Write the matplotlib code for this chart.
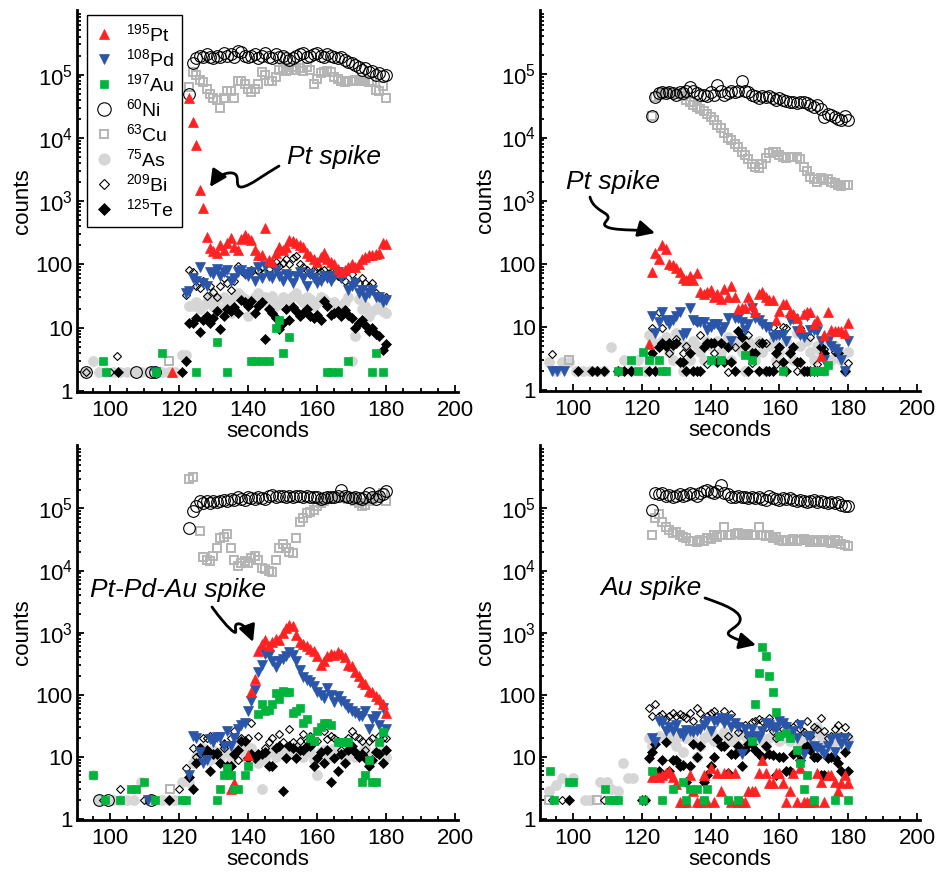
import numpy as np
import matplotlib.pyplot as plt
import matplotlib.transforms as mtransforms
from matplotlib.path import Path
from matplotlib.patches import FancyArrowPatch
from matplotlib.ticker import LogLocator, MultipleLocator, NullFormatter

plt.rcParams['font.family'] = ['Liberation Sans', 'DejaVu Sans']
plt.rcParams['mathtext.fontset'] = 'custom'
plt.rcParams['mathtext.rm'] = 'Liberation Sans'
plt.rcParams['mathtext.it'] = 'Liberation Sans:italic'

# acquisition time of each sweep during ablation (s)
sec = [122, 123, 124, 125, 126, 127, 128, 129, 130, 131,
       132, 133, 134, 135, 136, 137, 138, 139, 140, 141,
       142, 143, 144, 145, 146, 147, 148, 149, 150, 151,
       152, 153, 154, 155, 156, 157, 158, 159, 160, 161,
       162, 163, 164, 165, 166, 167, 168, 169, 170, 171,
       172, 173, 174, 175, 176, 177, 178, 179, 180]

# ---- spot 1 : Pt spike ----
p1_pt = [None, 4.3e4, 1.8e4, 7.7e3, 1.5e3, 780, 270, 180, 160, 150,
         200, 170, 220, 260, 190, 170, 250, 290, 260, 240,
         170, 140, 140, 375, 118, 110, 150, 190, 170, 190,
         240, 230, 220, 200, 185, 150, 135, 120, 110, 130,
         150, 120, 110, 100, 85, 75, 80, 90, 100, 90,
         100, 120, 130, 140, 140, 145, 150, 220, 210]
p1_pd = [35, 38, 60, 55, 90, 50, 45, 75, 70, 85,
         65, 75, 80, 55, 60, 75, 80, 70, 65, 75,
         55, 90, 60, 95, 65, 60, 80, 65, 55, 70,
         65, 50, 65, 75, 60, 45, 70, 60, 50, 55,
         65, 60, 55, 65, 75, 60, 70, 40, 45, 50,
         35, 40, 30, 35, 40, 30, 30, 25, 27]
p1_au = [None, None, None, 2, None, None, None, None, None, 6,
         None, None, 2, None, None, None, None, None, None, 3,
         3, None, 3, None, 3, None, 10, 13, 4, None,
         7, None, None, None, None, None, None, None, None, None,
         None, 2, 2, None, 2, None, None, 3, None, None,
         None, None, None, None, 2, 4, None, 2, None]
p1_ni = [None, 5e4, 1.5e5, 1.8e5, 2.0e5, 1.9e5, 2.1e5, 1.9e5, 1.8e5, 2.0e5,
         1.9e5, 2.2e5, 2.0e5, 2.1e5, 1.9e5, 2.4e5, 2.3e5, 2.0e5, 1.9e5, 2.0e5,
         2.1e5, 1.8e5, 2.0e5, 2.2e5, 1.9e5, 1.8e5, 2.1e5, 1.9e5, 2.0e5, 1.8e5,
         1.7e5, 1.8e5, 2.0e5, 2.1e5, 2.2e5, 1.9e5, 2.0e5, 2.1e5, 2.2e5, 2.0e5,
         1.9e5, 2.1e5, 2.0e5, 1.9e5, 1.8e5, 1.9e5, 1.7e5, 1.6e5, 1.5e5, 1.4e5,
         1.3e5, 1.2e5, 1.25e5, 1.1e5, 1.15e5, 1.0e5, 1.05e5, 0.95e5, 1.0e5]
p1_cu = [None, 6.3e4, 1.1e5, 1.0e5, 8.2e4, 7.5e4, 6e4, 5e4, 4.3e4, 4e4,
         3e4, 4.3e4, 5.6e4, 5.6e4, 4.3e4, 8e4, 8e4, 7e4, 6e4, 5.3e4,
         6e4, 7.2e4, 1.1e5, 1.0e5, 8e4, 8e4, 9e4, 1.2e5, 1.25e5, 1.15e5,
         1.2e5, 1.3e5, 1.2e5, 1.25e5, 1.15e5, 1.3e5, 1.2e5, 7e4, 8.5e4, 1.05e5,
         1.1e5, 1.15e5, 1.1e5, 9e4, 8.5e4, 8e4, 7.5e4, 8e4, 7.8e4, 8.2e4,
         8e4, 7.8e4, 8e4, 7.5e4, 7.8e4, 5.7e4, 5.5e4, 6.5e4, 4.3e4]
p1_as = [3.7, 22, 22, 25, 20, 22, 25, 30, 22, 28,
         20, 30, 25, 17, 30, 35, 32, 28, 15, 25,
         30, 35, 25, 30, 28, 32, 22, 25, 30, 28,
         25, 32, 35, 28, 25, 30, 28, 22, 25, 30,
         28, 25, 22, 25, 20, 22, 25, 30, 3, 7.5,
         28, 20, 22, 15, 18, 20, 22, 18, 17]
p1_bi = [33, 80, 75, 45, 42, 55, 32, 45, 37, 30,
         45, 60, 50, 40, 55, 95, 80, 70, 75, 80,
         65, 80, 90, 75, 85, 100, 110, 95, 105, 120,
         100, 125, 135, 100, 90, 80, 70, 80, 90, 75,
         80, 70, 75, 80, 65, 60, 55, 45, 70, 55,
         50, 60, 50, 45, 50, 35, 30, 28, 30]
p1_te = [3, 12, 12, 14, 8.5, 13, 15, 12, 14, 18,
         9.5, 15, 20, 18, 21, 17, 27, 25, 22, 26,
         17, 22, 25, 6.5, 20, 17, 14, 9.5, 12, 20,
         13, 21, 18, 15, 17, 20, 15, 14, 16, 13,
         26, 22, 16, 17, 18, 15, 19, 16, 14, 10,
         12, 13, 11, 9, 10, 8, 7.5, 4.5, 5.5]
# gas blank before ablation, (seconds, counts)
p1_pt_bg = [(118, 2)]
p1_pd_bg = [(113, 2)]
p1_au_bg = [(98, 3), (99, 2), (113.5, 2), (115, 4)]
p1_ni_bg = [(93, 2), (107.5, 2), (112, 2), (113, 2)]
p1_cu_bg = [(117, 3)]
p1_as_bg = [(93, 2), (95, 3), (97, 2), (99, 2), (101, 2), (103, 2), (105, 2), (107, 2),
            (109, 2), (111, 2), (113, 2), (115, 2), (117, 2), (119, 2), (121, 3.7)]
p1_bi_bg = [(93, 2), (100, 2), (102, 3.5)]
p1_te_bg = [(102.5, 2), (121, 2)]

# ---- spot 2 : Pt spike ----
p2_pt = [5.3, 73, 150, 120, 200, 170, 98, 95, 85, 73,
         60, 55, 65, 55, 70, 35, 33, 35, 38, 30,
         33, 28, 40, 30, 45, 30, 19, 20, 20, 30,
         22, 17, 33, 35, 30, 27, 27, 13, 18, 23,
         23, 17, 16, 14, 10, 16, 17, 17, 11, 13,
         3.5, 7.5, 17, 9, 8.5, 8.5, 8.5, 8, 11.5]
p2_pd = [None, 15, 8, 12, 17, 13, 11, 13, 15, 17,
         7.5, 8, 20, 13, 12, 12, 12, 9, 10, 11,
         11, 8.5, 10, 14, 6, 14, 14, 12, 9, 11,
         20, 14, 13, 11, 10, 10, 7, 7.5, 7.5, 7.5,
         6, 13, 13.5, 8.5, 7.5, 7, 15, 9, 9, 8.5,
         6, 3, 6, 5, 4.5, 4, 3, 2, 6]
p2_au = [3, None, None, 3, 2, 2, None, None, None, None,
         None, None, None, None, None, None, None, None, 3, None,
         None, 3, None, None, None, None, None, None, 3.6, None,
         3, None, None, None, None, None, None, None, None, 2,
         None, None, None, None, None, None, None, None, 2, 2,
         2, 2, 2.5, None, None, None, None, None, None]
p2_ni = [None, 2.2e4, 4.4e4, 5e4, 5.2e4, 5e4, 5.3e4, 5e4, 4.8e4, 5.2e4,
         5e4, 5.5e4, 6.3e4, 5.5e4, 5e4, 4.8e4, 4.7e4, 4.6e4, 5.2e4, 4.7e4,
         6.8e4, 5.5e4, 4.7e4, 5e4, 5.5e4, 5.2e4, 5.4e4, 8e4, 5.4e4, 5.2e4,
         4.8e4, 4.5e4, 4.3e4, 4.6e4, 4.4e4, 4.5e4, 4.2e4, 4e4, 4.2e4, 4e4,
         3.8e4, 3.6e4, 3.7e4, 3.5e4, 3.7e4, 3.6e4, 3.5e4, 3.3e4, 3.1e4, 3.3e4,
         2.8e4, 2.1e4, 2.4e4, 2.3e4, 2.1e4, 2e4, 1.9e4, 2.2e4, 1.9e4]
p2_cu = [None, 2.2e4, 4.4e4, 4.8e4, 5e4, 5.2e4, 5e4, 5.1e4, 4.9e4, 5e4,
         4.5e4, 4e4, 3.6e4, 3.3e4, 3e4, 2.8e4, 2.6e4, 2.4e4, 2.1e4, 1.9e4,
         1.6e4, 1.4e4, 1.2e4, 1e4, 9e3, 8e3, 7e3, 6e3, 5.2e3, 4.5e3,
         3.8e3, 3.4e3, 3.3e3, 3.8e3, 4.8e3, 5.7e3, 5.8e3, 6e3, 5.2e3, 5e3,
         4.8e3, 5e3, 4.9e3, 5e3, 4.5e3, 3.4e3, 2.9e3, 2.4e3, 2.2e3, 2e3,
         2.3e3, 2.1e3, 2.2e3, 2e3, 1.9e3, 1.8e3, 1.7e3, 1.8e3, 1.8e3]
p2_as = [7.5, 6, 3, 5, 6, 7, 4, 3, 8, 6,
         2, 5, 3, 6, 5, 4, 3, 6, 5, 3,
         6, 4, 5, 7, 3, 6, 5, 4, 2, 6,
         5, 3, 6, 4, 2, 5, 6, 3, 4, 2,
         6, 4, 3, 8, 5, 2, 6, 4, 3, 5,
         4, 2, 6, 3, 5, 4, 3, 2, 4]
p2_bi = [None, 9.5, None, 17, 9.5, None, 3.8, None, 6.5, None,
         3.8, 5, None, None, 12, 7.5, None, 2.6, None, 3.8,
         None, 10, None, 1.9, None, 4.7, None, 7, None, 7.5,
         2.7, None, 5.5, None, 5.5, None, 10, 2.6, None, 10,
         9.5, None, None, 2, 9.5, None, None, 7, None, 2.6,
         None, 4.5, None, None, 4, None, None, None, 2.7]
p2_te = [2, 3.8, 2, 4.7, 5.5, 5, 5.5, 5.2, 5.5, 2.8,
         2.8, 2, 3.8, 2, 2, 2, 4.7, 5.5, 5.5, 5.5,
         2.8, 5.5, 2.8, 4.7, 2.8, 2, 8.5, 7, 5, 2,
         3.8, 3.8, 2, 5.5, 2, 2, 2, 3.8, 4.7, 2.8,
         2, 3.8, 4.7, 2.8, 2.8, 2, 2, 2, 2, 2,
         4.7, 3.8, None, None, None, 3.8, None, 2, None]
p2_pt_bg = []
p2_pd_bg = [(94, 2), (95.5, 2), (97.5, 2)]
p2_au_bg = [(113, 2), (117, 3), (119, 2), (120.5, 4)]
p2_ni_bg = []
p2_cu_bg = [(99, 3)]
p2_as_bg = [(93, 2.8), (95, 2), (97, 2.8), (99, 2.8), (101, 2), (103, 2), (105, 2), (107, 2),
            (109, 2), (111, 4.8), (113, 2), (115, 3), (117, 2), (119, 3), (121, 2)]
p2_bi_bg = [(94, 3.7), (109, 2), (115, 2), (117, 2)]
p2_te_bg = [(101.5, 2), (105.5, 2), (107, 2), (109, 2), (113, 2), (115, 2), (117, 2)]

# ---- spot 3 : Pt-Pd-Au spike ----
p3_pt = [None, None, None, None, None, None, None, None, None, None,
         None, None, None, 3, 3.8, None, None, None, 10.5, 110,
         180, 500, 650, 750, 600, 700, 800, 750, 1000, 1200,
         1350, 1300, 900, 700, 650, 600, 550, 500, 420, 300,
         350, 420, 450, 430, 480, 450, 400, 300, 290, 230,
         200, 160, 150, 115, 110, 95, 85, 70, 50]
p3_pd = [None, 5, 22, 20, 12, 8, 9, 19, 17, 21,
         21, 15, 26, 15, 20, 28, 32, 35, 55, 80,
         120, 230, 300, 450, 430, 350, 280, 350, 380, 420,
         480, 430, 350, 250, 190, 170, 160, 140, 110, 100,
         90, 130, 100, 75, 95, 80, 70, 60, 55, 50,
         45, 45, 55, 28, 40, 45, 32, 60, 28]
p3_au = [2, None, None, None, None, None, None, None, None, 2,
         3, 5, 6.5, 5, 3, 3, None, 5, 7, None,
         None, 48, 70, 55, 57, 70, 105, 85, 115, 110,
         110, 50, 55, 60, 35, 40, 20, 18, 26, 30,
         35, 35, 32, None, 17, 17, 17, 17, None, None,
         None, 4, 5, 9, 4, 4, 17, 25, None]
p3_ni = [None, 4.9e4, 9e4, 1.1e5, 1.3e5, 1.2e5, 1.3e5, 1.2e5, 1.3e5, 1.25e5,
         1.3e5, 1.35e5, 1.3e5, 1.4e5, 1.35e5, 1.5e5, 1.4e5, 1.35e5, 1.5e5, 1.45e5,
         1.4e5, 1.5e5, 1.45e5, 1.4e5, 1.6e5, 1.65e5, 1.55e5, 1.6e5, 1.6e5, 1.55e5,
         1.6e5, 1.55e5, 1.6e5, 1.6e5, 1.55e5, 1.6e5, 1.5e5, 1.55e5, 1.5e5, 1.4e5,
         1.45e5, 1.5e5, 1.55e5, 1.5e5, 1.6e5, 2.0e5, 1.6e5, 1.5e5, 1.45e5, 1.55e5,
         1.45e5, 1.4e5, 1.5e5, 1.8e5, 1.5e5, 1.4e5, 1.6e5, 1.7e5, 1.9e5]
p3_cu = [None, 3e5, 3.2e5, None, 4.4e4, 1.65e4, 1.5e4, 1.4e4, 1.7e4, 2.3e4,
         3.3e4, 3.5e4, 3.9e4, 2.3e4, 1.5e4, 1.2e4, 1.3e4, 1.4e4, 1.3e4, 1.6e4,
         1.7e4, 1.5e4, 1.1e4, 1.07e4, 1e4, 9.5e3, 1.5e4, 2.3e4, 2.7e4, 2.3e4,
         2e4, 1.9e4, 3.3e4, 6e4, 7e4, 8.3e4, 8.8e4, 9.5e4, 1.1e5, 1.2e5,
         1.3e5, 1.4e5, 1.5e5, 1.5e5, 1.5e5, 1.45e5, 1.5e5, 1.4e5, 1.5e5, 1.3e5,
         1.2e5, 1.1e5, 1.15e5, 1.3e5, 1.4e5, 1.5e5, 1.6e5, 1.8e5, 1.3e5]
p3_as = [None, 4, 8, 10, 12, 14, 11, 9, 13, 12,
         10, 14, 12, 9, 11, 13, 15, 10, 12, 14,
         11, 8, 3, 9, 12, 13, 10, 14, 12, 11,
         13, 12, 15, 11, 10, 14, 12, 9, 5, 12,
         13, 11, 10, 14, 12, 11, 9, 13, 12, 10,
         11, 12, 14, 10, 9, 12, 11, 13, 10]
p3_bi = [6.5, None, 14, 10, 11, 20, 20, 22, None, 12,
         8, 14, None, 20, 26, 9, 20, None, 20, 35,
         None, 22, None, 14, 17, 20, None, 23, 17, None,
         28, 17, None, 18, 23, 18, 22, 18, 18, None,
         26, 19, 22, 20, 18, 13, 18, 20, 26, 22,
         20, 18, 13, 18, 20, None, 22, 20, 20]
p3_te = [None, 4.8, 3, 8, 14, 12, 13, 6, 11, 11,
         8, 16, 7, 7, 11, 13, 18, 18, 9.5, 11,
         9.5, 11, 11, 12, 7, 7, 14, 15, 2.8, 9.5,
         15, 14, 9.5, 13, 13, 15, 15, 7, 9.5, 12,
         8, 13, 4, 9.5, 6, 11, 8, 13, 15, 12,
         10, 11, 9.5, 7, 9, 12, 11, 8, 13]
p3_pt_bg = []
p3_pd_bg = [(111, 2)]
p3_au_bg = [(95, 5), (98.5, 2), (103, 2), (106, 3), (107.5, 3), (110, 4), (113, 2), (121, 2)]
p3_ni_bg = [(97, 2), (99.5, 2), (112, 2)]
p3_cu_bg = [(117.5, 3)]
p3_as_bg = [(95, 5), (97, 2), (99, 2), (101, 2), (103, 2), (105, 2), (107, 2), (109, 4),
            (111, 2), (113, 2), (115, 2), (117, 2), (119, 2), (121, 4)]
p3_bi_bg = [(98, 2), (103, 3), (110, 2), (117, 2), (120, 3)]
p3_te_bg = [(117, 2)]

# ---- spot 4 : Au spike ----
p4_pt = [None, 4.7, 5.5, 4.7, 5, 5.5, 6, 4.7, 3.7, 1.9,
         1.9, 1.9, 5, 2.8, 1.9, 1.9, 5, 1.9, 6.5, 1.9,
         5.5, 2.8, 5.5, 5.5, 1.9, 5.5, 1.9, 1.9, 1.9, 2.8,
         2.8, 2.8, 5.5, 9, 5.5, 3.8, 3.8, 5.5, 5.5, 3.8,
         1.9, 2.8, 5.5, 1.9, 6.5, 1.9, 1.9, 1.9, 1.9, 5.5,
         4, 1.9, 5, 5, 4, 2.8, 3.8, 5, 3.8]
p4_pd = [None, 20, 17, 38, 35, 26, 30, 26, 32, 24,
         22, 27, 26, 25, 26, 28, 32, 38, 26, 38,
         38, 42, 35, 40, 30, 35, 30, 11, 28, 22,
         28, 22, 20, 26, 35, 32, 30, 28, 38, 35,
         30, 22, 26, 20, 32, 11, 22, 22, 15, 14,
         13, 11, 15, 19, 12, 20, 16, 20, 15]
p4_au = [None, 6, None, None, 2, None, None, 3, None, None,
         4, 2, 3, None, 3, None, 2, 3, None, None,
         None, None, None, 2, None, None, 2, None, None, None,
         18, 70, 220, 580, 420, 200, 110, 52, 22, None,
         24, 20, None, 13, 8, 3, 5, None, 2, None,
         None, None, None, None, 2, None, None, None, 2]
p4_ni = [None, 9.5e4, 1.75e5, 1.7e5, 1.75e5, 1.6e5, 1.65e5, 1.55e5, 1.6e5, 1.7e5,
         1.6e5, 1.65e5, 1.8e5, 1.7e5, 1.6e5, 1.75e5, 1.9e5, 2e5, 1.85e5, 1.8e5,
         1.9e5, 2.4e5, 1.8e5, 1.7e5, 1.5e5, 1.55e5, 1.6e5, 1.5e5, 1.55e5, 1.45e5,
         1.5e5, 1.45e5, 1.5e5, 1.4e5, 1.35e5, 1.6e5, 1.45e5, 1.4e5, 1.35e5, 1.45e5,
         1.4e5, 1.45e5, 1.35e5, 1.3e5, 1.35e5, 1.3e5, 1.25e5, 1.3e5, 1.35e5, 1.25e5,
         1.3e5, 1.25e5, 1.2e5, 1.25e5, 1.2e5, 1.25e5, 1.15e5, 1.1e5, 1.1e5]
p4_cu = [None, 3.7e4, 7e4, 8e4, 6e4, 5e4, 4.5e4, 4e4, 4.2e4, 3.7e4,
         3.5e4, 3.3e4, 3e4, 3e4, 2.9e4, 3.1e4, 3e4, 3.3e4, 3.2e4, 3.7e4,
         3.5e4, 3.7e4, 5e4, 3.7e4, 3.8e4, 3.9e4, 4e4, 3.8e4, 3.7e4, 3.9e4,
         3.8e4, 3.7e4, 5e4, 3.7e4, 3.6e4, 3.7e4, 3.3e4, 3.5e4, 3.1e4, 3e4,
         3.1e4, 3e4, 3.2e4, 3e4, 3.1e4, 3.2e4, 3.1e4, 2.9e4, 2.9e4, 3.1e4,
         2.9e4, 3.1e4, 3e4, 2.8e4, 3.1e4, 3e4, 2.7e4, 2.6e4, 2.5e4]
p4_as = [20, 15, 18, 22, 4.5, 20, 25, 18, 15, 22,
         12, 20, 25, 18, 10, 15, 20, 22, 25, 18,
         20, 16, 25, 22, 18, 20, 15, 25, 22, 18,
         20, 25, 22, 18, 15, 20, 22, 25, 18, 20,
         22, 18, 25, 20, 15, 22, 18, 20, 25, 30,
         22, 18, 20, 15, 18, 22, 20, 18, 20]
p4_bi = [60, 45, 70, 45, 48, 40, 45, 50, 45, 48,
         45, 42, 50, 38, 60, 50, 40, 45, 50, 55,
         45, 42, 55, 22, 48, 35, 25, 30, 32, 22,
         37, 38, 40, 38, 30, 42, 26, 20, 22, 28,
         32, 22, 30, 35, 28, 25, 38, 22, 30, 28,
         42, 26, 20, 22, 28, 32, 22, 30, 22]
p4_te = [9.5, 12, 16, 6, 9, 17, 6, 9, 9, 7,
         7.5, 4, 7, 16, 10, 15, 4, 5, 7, 10,
         19, 15, 15, 5.5, 11, 11, 15, 7, 13, 16,
         16, 13, 11, 10, 15, 11, 10.5, 5, 10, 10,
         6, 6, 11, 12, 9, 14, 15, 13, 10, 10,
         5, 5, 9.5, 10, 9.5, 8, 6, 12, 6]
p4_pt_bg = []
p4_pd_bg = []
p4_au_bg = [(93.5, 6), (94.5, 2), (99, 4), (100, 4), (109.5, 3), (110.5, 2), (112, 2), (113, 2), (120.5, 2)]
p4_ni_bg = []
p4_cu_bg = [(93, 2), (107, 2)]
p4_as_bg = [(93, 2.8), (95, 3.5), (97, 4.5), (100, 4.5), (103.5, 2), (105, 2), (108, 4), (110, 4),
            (111, 3), (113, 2.8), (114.5, 8), (116, 4.5), (117.5, 4.5), (121, 2)]
p4_bi_bg = [(94, 2), (97, 2), (109, 2), (121, 2)]
p4_te_bg = [(99, 2), (120, 2), (121, 2)]

# marker style for each isotope, in legend order
styles = [
    ('pt', r'$^{195}$Pt', dict(marker='^', ms=6.8, mfc='#ff2222', mec='#ff2222', mew=0.5), 8),
    ('pd', r'$^{108}$Pd', dict(marker='v', ms=6.8, mfc='#2a55a8', mec='#2a55a8', mew=0.5), 7),
    ('au', r'$^{197}$Au', dict(marker='s', ms=5.2, mfc='#00b43c', mec='#00b43c', mew=0.5), 9),
    ('ni', r'$^{60}$Ni', dict(marker='o', ms=8.4, mfc='none', mec='black', mew=0.8), 4),
    ('cu', r'$^{63}$Cu', dict(marker='s', ms=5.2, mfc='none', mec='#b4b4b4', mew=1.4), 3),
    ('as', r'$^{75}$As', dict(marker='o', ms=7.2, mfc='#d6d6d6', mec='#d6d6d6', mew=0.5), 2),
    ('bi', r'$^{209}$Bi', dict(marker='D', ms=4.2, mfc='none', mec='black', mew=0.8), 5),
    ('te', r'$^{125}$Te', dict(marker='D', ms=5.0, mfc='black', mec='black', mew=0.5), 6),
]

panels = [
    dict(main=dict(pt=p1_pt, pd=p1_pd, au=p1_au, ni=p1_ni, cu=p1_cu, As=p1_as, bi=p1_bi, te=p1_te),
         bg=dict(pt=p1_pt_bg, pd=p1_pd_bg, au=p1_au_bg, ni=p1_ni_bg, cu=p1_cu_bg, As=p1_as_bg, bi=p1_bi_bg, te=p1_te_bg)),
    dict(main=dict(pt=p2_pt, pd=p2_pd, au=p2_au, ni=p2_ni, cu=p2_cu, As=p2_as, bi=p2_bi, te=p2_te),
         bg=dict(pt=p2_pt_bg, pd=p2_pd_bg, au=p2_au_bg, ni=p2_ni_bg, cu=p2_cu_bg, As=p2_as_bg, bi=p2_bi_bg, te=p2_te_bg)),
    dict(main=dict(pt=p3_pt, pd=p3_pd, au=p3_au, ni=p3_ni, cu=p3_cu, As=p3_as, bi=p3_bi, te=p3_te),
         bg=dict(pt=p3_pt_bg, pd=p3_pd_bg, au=p3_au_bg, ni=p3_ni_bg, cu=p3_cu_bg, As=p3_as_bg, bi=p3_bi_bg, te=p3_te_bg)),
    dict(main=dict(pt=p4_pt, pd=p4_pd, au=p4_au, ni=p4_ni, cu=p4_cu, As=p4_as, bi=p4_bi, te=p4_te),
         bg=dict(pt=p4_pt_bg, pd=p4_pd_bg, au=p4_au_bg, ni=p4_ni_bg, cu=p4_cu_bg, As=p4_as_bg, bi=p4_bi_bg, te=p4_te_bg)),
]

W, H = 939, 874
fig = plt.figure(figsize=(W / 100, H / 100), dpi=100)

# axes boxes in pixels: left, top, right, bottom
boxes = [(77, 10, 458, 392), (540, 10, 920, 391), (77, 445, 458, 820), (540, 445, 920, 820)]

axes = []
for (l, t, r, b), pan in zip(boxes, panels):
    ax = fig.add_axes([l / W, 1 - b / H, (r - l) / W, (b - t) / H])
    handles = []
    for key, label, st, z in styles:
        k = 'As' if key == 'as' else key
        y = np.array(pan['main'][k], dtype=float)
        h, = ax.plot(sec, y, ls='none', zorder=z, label=label, **st)
        handles.append(h)
        if pan['bg'][k]:
            bx, by = zip(*pan['bg'][k])
            ax.plot(bx, by, ls='none', zorder=z, **st)

    ax.set_yscale('log')
    ax.set_xlim(90.5, 200.8)
    ax.set_ylim(0.96, 1.05e6)
    ax.spines[['top', 'right']].set_visible(False)
    ax.spines[['left', 'bottom']].set_linewidth(2)
    ax.set_xticks([100, 120, 140, 160, 180, 200])
    ax.xaxis.set_minor_locator(MultipleLocator(5))
    ax.set_yticks([1, 10, 100, 1e3, 1e4, 1e5])
    ax.set_yticklabels(['1', '10', '100', r'$10^3$', r'$10^4$', r'$10^5$'])
    ax.yaxis.set_minor_locator(LogLocator(base=10, subs=np.arange(2, 10)))
    ax.yaxis.set_minor_formatter(NullFormatter())
    ax.tick_params(which='both', direction='in', width=1.3, labelsize=16)
    ax.tick_params(which='major', length=5)
    ax.tick_params(which='minor', length=3)
    ax.tick_params(axis='x', pad=6)
    ax.tick_params(axis='y', pad=3)
    ax.set_xlabel('seconds', fontsize=16, labelpad=0)
    ax.set_ylabel('counts', fontsize=16, labelpad=2)
    axes.append((ax, handles))

ax0, handles0 = axes[0]
leg = ax0.legend(handles0, [s[1] for s in styles], loc='upper left',
                 bbox_to_anchor=(0.026, 0.987), borderaxespad=0, fontsize=14,
                 frameon=True, fancybox=False, edgecolor='black', framealpha=1,
                 handlelength=1.0, handletextpad=0.6, labelspacing=0.16,
                 borderpad=0.4, markerscale=1.15)
leg.get_frame().set_linewidth(1.0)
leg.set_zorder(20)

# annotations: label text and a curly arrow, in figure pixels (origin top-left)
pix = mtransforms.Affine2D().scale(1 / W, -1 / H).translate(0, 1) + fig.transFigure
C = [Path.MOVETO, Path.CURVE4, Path.CURVE4, Path.CURVE4,
     Path.CURVE4, Path.CURVE4, Path.CURVE4, Path.CURVE4, Path.CURVE4, Path.CURVE4]

notes = [
    ('Pt spike', (287, 164),
     [(279, 166), (265, 174), (250, 186), (242, 187),
      (233, 188), (242, 174), (232, 173),
      (224, 172), (216, 178), (210, 187)]),
    ('Pt spike', (566, 189),
     [(590, 197), (592, 206), (600, 210), (606, 214),
      (614, 220), (596, 224), (610, 228),
      (622, 231), (640, 229), (655, 233)]),
    ('Pt-Pd-Au spike', (90, 597),
     [(212, 607), (220, 618), (228, 628), (234, 632),
      (239, 635), (231, 622), (240, 624),
      (246, 626), (250, 634), (253, 642)]),
    ('Au spike', (600, 595),
     [(705, 598), (722, 604), (746, 612), (739, 623),
      (734, 630), (722, 632), (732, 637),
      (740, 641), (748, 643), (756, 645)]),
]
for text, (tx, ty), verts in notes:
    fig.text(tx, ty, text, transform=pix, fontsize=19, style='italic',
             ha='left', va='baseline')
    arr = FancyArrowPatch(path=Path(verts, C), transform=pix,
                          arrowstyle='-|>,head_length=0.5,head_width=0.25',
                          mutation_scale=20, lw=2, color='black')
    fig.add_artist(arr)

fig.savefig('out.png', dpi=100)
